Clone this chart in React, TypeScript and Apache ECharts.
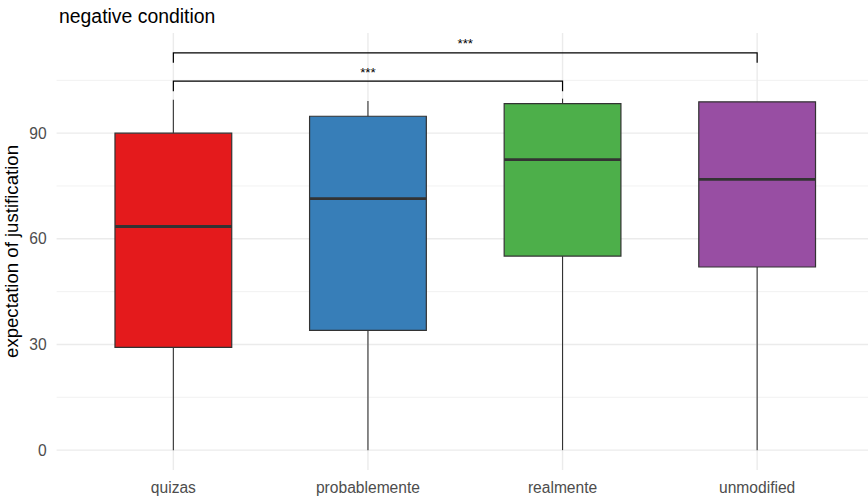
import React, { useEffect, useRef } from 'react';
import * as echarts from 'echarts';

const categories = ['quizas', 'probablemente', 'realmente', 'unmodified'];
const whiskerLow = [0, 0, 0, 0];
const q1 = [29.2, 34.0, 55.1, 52.0];
const median = [63.5, 71.4, 82.5, 76.9];
const q3 = [90.0, 94.8, 98.4, 98.9];
const whiskerHigh = [99.5, 99.1, 99.8, 98.9];
const fills = ['#E41A1C', '#377EB8', '#4DAF4A', '#984EA3'];

const yTicks = [0, 30, 60, 90];
const yMinor = [15, 45, 75, 105];

const bracketFrom = [0, 0];
const bracketTo = [2, 3];
const bracketY = [104.8, 112.8];
const bracketTip = [101.9, 110.0];
const bracketLabel = ['***', '***'];

const FONT = '"Liberation Sans", Arial, Helvetica, sans-serif';

export default function App() {
  const ref = useRef<HTMLDivElement>(null);

  useEffect(() => {
    document.body.style.margin = '0';
    if (!ref.current) return;
    const chart = echarts.init(ref.current, undefined, { renderer: 'svg' });

    const hgridData = [
      ...yTicks.map((v) => [0, v, 1]),
      ...yMinor.map((v) => [0, v, 0]),
    ];
    const vgridData = categories.map((_, i) => [i, 0]);
    const boxData = categories.map((_, i) => [i, whiskerLow[i], q1[i], median[i], q3[i], whiskerHigh[i]]);
    const bracketData = bracketFrom.map((f, i) => [f, bracketY[i], bracketTo[i], bracketTip[i]]);

    const option: any = {
      animation: false,
      backgroundColor: '#ffffff',
      title: {
        text: 'negative condition',
        left: 54,
        top: 1,
        textStyle: { fontFamily: FONT, fontSize: 19.4, fontWeight: 'normal', color: '#000000' },
      },
      grid: {
        left: 56.6,
        top: 33,
        width: 817.3,
        height: 437,
        containLabel: false,
        outerBoundsMode: 'none',
      },
      xAxis: {
        type: 'value',
        min: -0.6,
        max: 3.6,
        axisLine: { show: false },
        axisTick: { show: false },
        splitLine: { show: false },
        axisLabel: {
          customValues: [0, 1, 2, 3],
          formatter: (v: number) => (Number.isInteger(v) && categories[v] ? categories[v] : ''),
          color: '#4D4D4D',
          fontSize: 15.6,
          fontFamily: FONT,
          margin: 9,
        },
      },
      yAxis: {
        type: 'value',
        min: -5.64,
        max: 118.44,
        name: 'expectation of justification',
        nameLocation: 'middle',
        nameRotate: 90,
        nameGap: 36,
        nameMoveOverlap: false,
        nameTextStyle: { fontFamily: FONT, fontSize: 18.6, color: '#000000' },
        axisLine: { show: false },
        axisTick: { show: false },
        splitLine: { show: false },
        axisLabel: {
          customValues: yTicks,
          formatter: (v: number) => (yTicks.includes(v) ? String(v) : ''),
          color: '#4D4D4D',
          fontSize: 15.6,
          fontFamily: FONT,
          margin: 10,
        },
      },
      series: [
        {
          type: 'custom',
          name: 'hgrid',
          silent: true,
          z: 0,
          data: hgridData,
          encode: { x: 0, y: 1 },
          renderItem: (params: any, api: any) => {
            const cs = params.coordSys;
            const y = api.coord([0, api.value(1)])[1];
            const major = api.value(2) === 1;
            return {
              type: 'line',
              shape: { x1: cs.x, y1: y, x2: cs.x + cs.width, y2: y },
              style: { stroke: '#EBEBEB', lineWidth: major ? 1.4 : 0.7 },
            };
          },
        },
        {
          type: 'custom',
          name: 'vgrid',
          silent: true,
          z: 0,
          data: vgridData,
          encode: { x: 0, y: 1 },
          renderItem: (params: any, api: any) => {
            const cs = params.coordSys;
            const x = api.coord([api.value(0), 0])[0];
            return {
              type: 'line',
              shape: { x1: x, y1: cs.y, x2: x, y2: cs.y + cs.height },
              style: { stroke: '#EBEBEB', lineWidth: 1.4 },
            };
          },
        },
        {
          type: 'custom',
          name: 'boxes',
          z: 2,
          data: boxData,
          encode: { x: 0, y: [1, 2, 3, 4, 5] },
          renderItem: (params: any, api: any) => {
            const i = api.value(0);
            const lo = api.coord([i, api.value(1)]);
            const b1 = api.coord([i, api.value(2)]);
            const md = api.coord([i, api.value(3)]);
            const b3 = api.coord([i, api.value(4)]);
            const hi = api.coord([i, api.value(5)]);
            const w = api.size([0.6, 0])[0];
            const cx = lo[0];
            const stroke = '#333333';
            return {
              type: 'group',
              children: [
                {
                  type: 'line',
                  shape: { x1: cx, y1: hi[1], x2: cx, y2: b3[1] },
                  style: { stroke, lineWidth: 1.1 },
                },
                {
                  type: 'line',
                  shape: { x1: cx, y1: b1[1], x2: cx, y2: lo[1] },
                  style: { stroke, lineWidth: 1.1 },
                },
                {
                  type: 'rect',
                  shape: { x: cx - w / 2, y: b3[1], width: w, height: b1[1] - b3[1] },
                  style: { fill: fills[params.dataIndex], stroke, lineWidth: 1.2 },
                },
                {
                  type: 'line',
                  shape: { x1: cx - w / 2, y1: md[1], x2: cx + w / 2, y2: md[1] },
                  style: { stroke, lineWidth: 2.8 },
                },
              ],
            };
          },
        },
        {
          type: 'custom',
          name: 'brackets',
          z: 3,
          data: bracketData,
          encode: { x: [0, 2], y: [1, 3] },
          renderItem: (params: any, api: any) => {
            const f = api.value(0);
            const yv = api.value(1);
            const t = api.value(2);
            const tip = api.value(3);
            const p1 = api.coord([f, tip]);
            const p2 = api.coord([f, yv]);
            const p3 = api.coord([t, yv]);
            const p4 = api.coord([t, tip]);
            return {
              type: 'group',
              children: [
                {
                  type: 'polyline',
                  shape: { points: [p1, p2, p3, p4] },
                  style: { stroke: '#000000', lineWidth: 1.2, fill: 'none' },
                },
                {
                  type: 'text',
                  x: (p2[0] + p3[0]) / 2,
                  y: p2[1] - 2.5,
                  style: {
                    text: bracketLabel[params.dataIndex],
                    fontFamily: FONT,
                    fontSize: 13.4,
                    fill: '#000000',
                    align: 'center',
                    verticalAlign: 'bottom',
                  },
                },
              ],
            };
          },
        },
      ],
    };

    chart.setOption(option);
    return () => chart.dispose();
  }, []);

  return <div ref={ref} style={{ width: 868, height: 498 }} />;
}
